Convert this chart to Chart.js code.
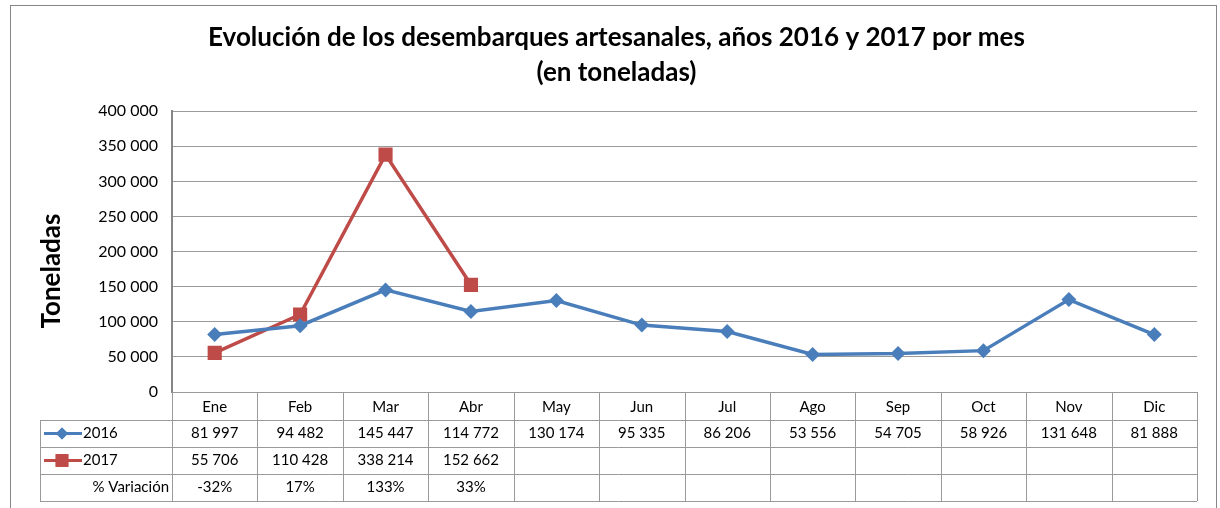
<!DOCTYPE html>
<html>
<head>
<meta charset="utf-8">
<script src="https://cdn.jsdelivr.net/npm/chart.js@4.4.0/dist/chart.umd.min.js"></script>
<style>
  html, body { margin: 0; padding: 0; background: #fff; }
  #wrap { width: 1220px; height: 508px; position: relative; }
</style>
</head>
<body>
<div id="wrap"><canvas id="desembarquesChart" width="1220" height="508"></canvas></div>
<script>
// ===== Desembarques artesanales 2016 / 2017 =====

const months = ['Ene', 'Feb', 'Mar', 'Abr', 'May', 'Jun', 'Jul', 'Ago', 'Sep', 'Oct', 'Nov', 'Dic'];
const values2016 = [81997, 94482, 145447, 114772, 130174, 95335, 86206, 53556, 54705, 58926, 131648, 81888];
const values2017 = [55706, 110428, 338214, 152662, null, null, null, null, null, null, null, null];
const variacion = ['-32%', '17%', '133%', '33%', '', '', '', '', '', '', '', ''];
const yTitle = 'Toneladas';

const FONT = "Lato, 'Open Sans', sans-serif";
const blue = '#4A7EBB';
const red = '#BE4B48';
const gridGray = '#9a9a9a';
const axisGray = '#868686';

// thousands with a space, like the original sheet
function fmt(n) {
  if (n === null || n === undefined) return '';
  return String(n).replace(/\B(?=(\d{3})+(?!\d))/g, ' ');
}

// outer frame + data table under the plot
const dataTablePlugin = {
  id: 'dataTable',
  beforeDraw(chart) {
    const ctx = chart.ctx;
    ctx.save();
    ctx.strokeStyle = axisGray;
    ctx.lineWidth = 1;
    ctx.strokeRect(10.5, 5.5, 1206, 540);
    ctx.restore();
  },
  afterDraw(chart) {
    const ctx = chart.ctx;
    const x = chart.scales.x;
    const area = chart.chartArea;
    const rowH = 27;
    const top = area.bottom;          // month row starts at plot bottom
    const r1 = top + 28;              // 2016 row
    const r2 = r1 + rowH;             // 2017 row
    const r3 = r2 + rowH;             // % row
    const end = r3 + rowH;
    const tableLeft = 40;
    const colW = (area.right - area.left) / months.length;

    ctx.save();
    ctx.strokeStyle = gridGray;
    ctx.lineWidth = 1;

    // horizontal lines
    [r1, r2, r3, end].forEach(y => {
      ctx.beginPath();
      ctx.moveTo(tableLeft, Math.round(y) + 0.5);
      ctx.lineTo(area.right, Math.round(y) + 0.5);
      ctx.stroke();
    });
    // vertical lines
    for (let i = 0; i <= months.length; i++) {
      const vx = Math.round(area.left + i * colW) + 0.5;
      ctx.beginPath();
      ctx.moveTo(vx, top);
      ctx.lineTo(vx, end);
      ctx.stroke();
    }
    ctx.beginPath();
    ctx.moveTo(tableLeft + 0.5, r1);
    ctx.lineTo(tableLeft + 0.5, end);
    ctx.stroke();

    // cell text
    ctx.fillStyle = '#000';
    ctx.font = `15px ${FONT}`;
    ctx.textAlign = 'center';
    ctx.textBaseline = 'middle';
    months.forEach((m, i) => {
      const cx = x.getPixelForValue(i);
      ctx.fillText(fmt(values2016[i]), cx, r1 + rowH / 2);
      ctx.fillText(fmt(values2017[i]), cx, r2 + rowH / 2);
      ctx.fillText(variacion[i], cx, r3 + rowH / 2);
    });

    // row headers with legend keys
    const keys = [
      { y: r1 + rowH / 2, color: blue, style: 'rectRot', r: 6, label: chart.data.datasets[0].label },
      { y: r2 + rowH / 2, color: red, style: 'rect', r: 9, label: chart.data.datasets[1].label }
    ];
    keys.forEach(k => {
      ctx.strokeStyle = k.color;
      ctx.lineWidth = 3;
      ctx.beginPath();
      ctx.moveTo(44, k.y);
      ctx.lineTo(82, k.y);
      ctx.stroke();
      ctx.fillStyle = k.color;
      Chart.helpers.drawPoint(ctx, { pointStyle: k.style, radius: k.r, borderWidth: 0 }, 62, k.y);
      ctx.fill();
      ctx.fillStyle = '#000';
      ctx.textAlign = 'left';
      ctx.fillText(k.label, 83, k.y);
    });
    ctx.textAlign = 'right';
    ctx.fillText('% Variación', area.left - 3, r3 + rowH / 2);

    // vertical axis title, centred a bit lower than the plot (as in the sheet)
    ctx.translate(52, 271);
    ctx.rotate(-Math.PI / 2);
    ctx.textAlign = 'center';
    ctx.font = `bold 26px ${FONT}`;
    ctx.fillText(yTitle, 0, 0);
    ctx.restore();
  }
};

const canvas = document.getElementById('desembarquesChart');
new Chart(canvas.getContext('2d'), {
  type: 'line',
  data: {
    labels: months,
    datasets: [
      {
        label: '2016',
        data: values2016,
        borderColor: blue,
        backgroundColor: blue,
        borderWidth: 3.5,
        tension: 0,
        pointStyle: 'rectRot',
        pointRadius: 7.5,
        pointBorderWidth: 0
      },
      {
        label: '2017',
        data: values2017,
        borderColor: red,
        backgroundColor: red,
        borderWidth: 3.5,
        tension: 0,
        pointStyle: 'rect',
        pointRadius: 10,
        pointBorderWidth: 0
      }
    ]
  },
  options: {
    responsive: false,
    animation: false,
    layout: {
      padding: { left: 36, right: 23, top: 0, bottom: 88 }
    },
    plugins: {
      legend: { display: false },
      tooltip: { enabled: false },
      title: {
        display: true,
        text: ['Evolución de los desembarques artesanales, años 2016 y 2017 por mes', '(en toneladas)'],
        color: '#000',
        font: { family: FONT, size: 26, weight: 'bold', lineHeight: 1.35 },
        padding: { top: 20, bottom: 21 }
      }
    },
    scales: {
      x: {
        offset: true,
        grid: { display: false, drawTicks: false },
        border: { display: false },
        ticks: {
          color: '#000',
          font: { family: FONT, size: 15 },
          padding: 6,
          maxRotation: 0
        },
        afterFit: s => { s.height = 28; }
      },
      y: {
        min: 0,
        max: 400000,
        grid: { color: gridGray, lineWidth: 1, drawTicks: false },
        border: { color: axisGray, width: 2 },
        ticks: {
          stepSize: 50000,
          color: '#000',
          font: { family: FONT, size: 16 },
          padding: 14,
          callback: v => fmt(v)
        },
        afterFit: s => { s.width = 136; }
      }
    }
  },
  plugins: [dataTablePlugin]
});
</script>
</body>
</html>
